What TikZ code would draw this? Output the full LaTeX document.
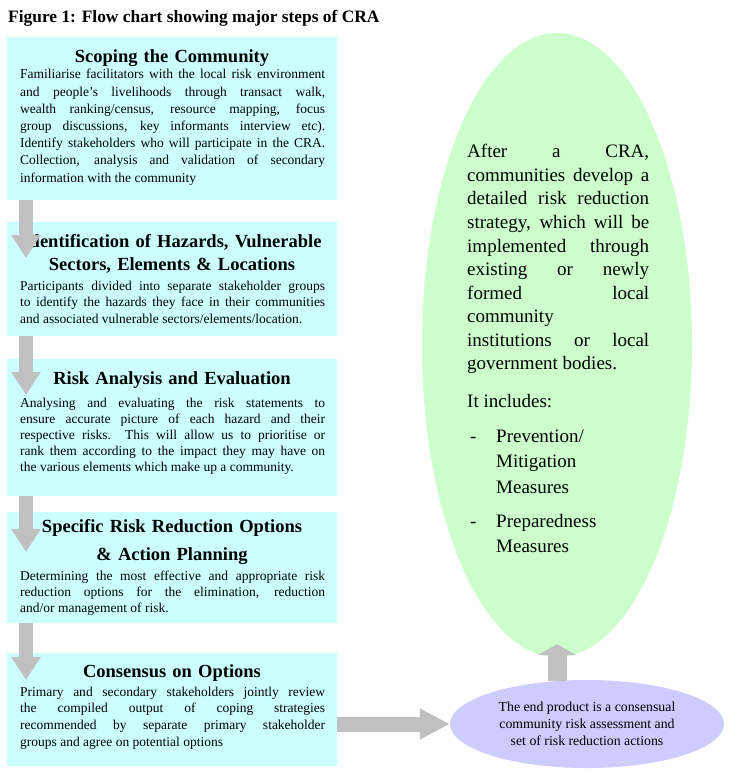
\documentclass[tikz,border=0pt]{standalone}
\usepackage{fontspec}
\setmainfont{Liberation Serif}
\usetikzlibrary{positioning,arrows.meta,shapes.geometric}
\definecolor{scyan}{RGB}{204,255,255}
\definecolor{sgreen}{RGB}{204,255,204}
\definecolor{slilac}{RGB}{204,204,255}
\definecolor{sgrey}{RGB}{192,192,192}
\tolerance=10000 \hyphenpenalty=10000 \hbadness=10000

\begin{document}
\begin{tikzpicture}[x=1pt,y=-1pt,
    sbox/.style={rectangle,fill=scyan,minimum width=330pt,inner sep=0pt},
    stitle/.style={anchor=base,text width=330pt,align=center,inner sep=0pt,
        font=\fontsize{18.5}{24}\selectfont\bfseries},
    sbody/.style={anchor=base west,text width=305pt,align=justify,inner sep=0pt,
        font=\fontsize{13.5}{16.8}\selectfont},
    blk/.style={draw=sgrey,line width=14pt,-{Triangle[width=28pt,length=23pt]}},
    gell/.style={ellipse,fill=sgreen,inner sep=0pt,minimum width=270pt,minimum height=624pt},
    pell/.style={ellipse,fill=slilac,inner sep=0pt,minimum width=274pt,minimum height=88pt,
        align=center,font=\fontsize{13.8}{17}\selectfont},
    gtext/.style={anchor=base west,inner sep=0pt,text width=182pt,align=justify,
        font=\fontsize{19}{23.5}\selectfont},
    gitem/.style={anchor=base west,inner sep=0pt,text width=150pt,align=left,
        font=\fontsize{19}{25.5}\selectfont}]
  \useasboundingbox (0,0) rectangle (753,778);

  \node[anchor=base west,inner sep=0pt,font=\fontsize{17.4}{20}\selectfont\bfseries]
    (fig) at (8,23) {Figure 1: Flow chart showing major steps of CRA};

  % the five steps
  \node[sbox,minimum height=163pt] (scope) at (172,118.5) {};
  \node[sbox,minimum height=114pt] (ident) at (172,279) {};
  \node[sbox,minimum height=137pt] (risk) at (172,427.5) {};
  \node[sbox,minimum height=111pt] (option) at (172,567.5) {};
  \node[sbox,minimum height=113pt] (consens) at (172,709.5) {};

  \node[stitle] (t-scope) at (172,63) {Scoping the Community};
  \node[sbody,font=\fontsize{13.5}{17.2}\selectfont] (b-scope) at (20,79)
    {Familiarise facilitators with the local risk environment \linebreak
     and people's livelihoods through transact walk, \linebreak
     wealth ranking/census, resource mapping, focus \linebreak
     group discussions, key informants interview etc). \linebreak
     Identify stakeholders who will participate in the CRA. \linebreak
     Collection, analysis and validation of secondary \linebreak
     information with the community};

  \node[stitle,font=\fontsize{18.5}{23.5}\selectfont\bfseries] (t-ident) at (172,247)
    {Identification of Hazards, Vulnerable\\Sectors, Elements \& Locations};
  \node[sbody] (b-ident) at (20,290)
    {Participants divided into separate stakeholder groups \linebreak
     to identify the hazards they face in their communities \linebreak
     and associated vulnerable sectors/elements/location.};

  \node[stitle] (t-risk) at (172,384) {Risk Analysis and Evaluation};
  \node[sbody,font=\fontsize{13.5}{16}\selectfont] (b-risk) at (20,407)
    {Analysing and evaluating the risk statements to \linebreak
     ensure accurate picture of each hazard and their \linebreak
     respective risks.\ \ This will allow us to prioritise or \linebreak
     rank them according to the impact they may have on \linebreak
     the various elements which make up a community.};

  \node[stitle,font=\fontsize{18.5}{28}\selectfont\bfseries] (t-option) at (172,532)
    {Specific Risk Reduction Options\\\& Action Planning};
  \node[sbody,font=\fontsize{13.5}{16.3}\selectfont] (b-option) at (20,580)
    {Determining the most effective and appropriate risk \linebreak
     reduction options for the elimination, reduction \linebreak
     and/or management of risk.};

  \node[stitle] (t-consens) at (172,677) {Consensus on Options};
  \node[sbody,font=\fontsize{13.5}{16.7}\selectfont] (b-consens) at (20,696)
    {Primary and secondary stakeholders jointly review \linebreak
     the compiled output of coping strategies \linebreak
     recommended by separate primary stakeholder \linebreak
     groups and agree on potential options};

  % outcome
  \node[gell] (plan) at (557,345) {};
  \node[gtext] (g-after) at (467,158)
    {After a CRA, \linebreak communities develop a \linebreak
     detailed risk reduction \linebreak strategy, which will be \linebreak
     implemented through \linebreak existing or newly \linebreak
     formed local \linebreak community \linebreak
     institutions or local \linebreak government bodies.};
  \node[gtext] (g-incl) at (467,407) {It includes:};
  \node[gitem,text width=] (d-prev) at (470,442) {-};
  \node[gitem] (g-prev) at (496,442) {Prevention/\\Mitigation\\Measures};
  \node[gitem,text width=] (d-prep) at (470,527) {-};
  \node[gitem] (g-prep) at (496,527) {Preparedness\\Measures};

  \node[pell] (endres) at (587,724)
    {The end product is a consensual\\community risk assessment and\\set of risk reduction actions};

  % block arrows
  \foreach \a/\b/\y in {scope/ident/258,ident/risk/395,risk/option/552,option/consens/680}{
    \coordinate (tip-\b) at (26,\y);
    \draw[blk] (\a.south -| tip-\b) -- (tip-\b);
  }
  \draw[blk,line width=15pt,-{Triangle[width=29pt,length=30pt]}]
    (consens.east |- endres.west) -- (endres.west);
  \draw[blk,line width=19pt,-{Triangle[width=38pt,length=11pt]}]
    ([yshift=-1.5pt]endres.north -| plan.south) -- ([yshift=13pt]plan.south);
\end{tikzpicture}
\end{document}
